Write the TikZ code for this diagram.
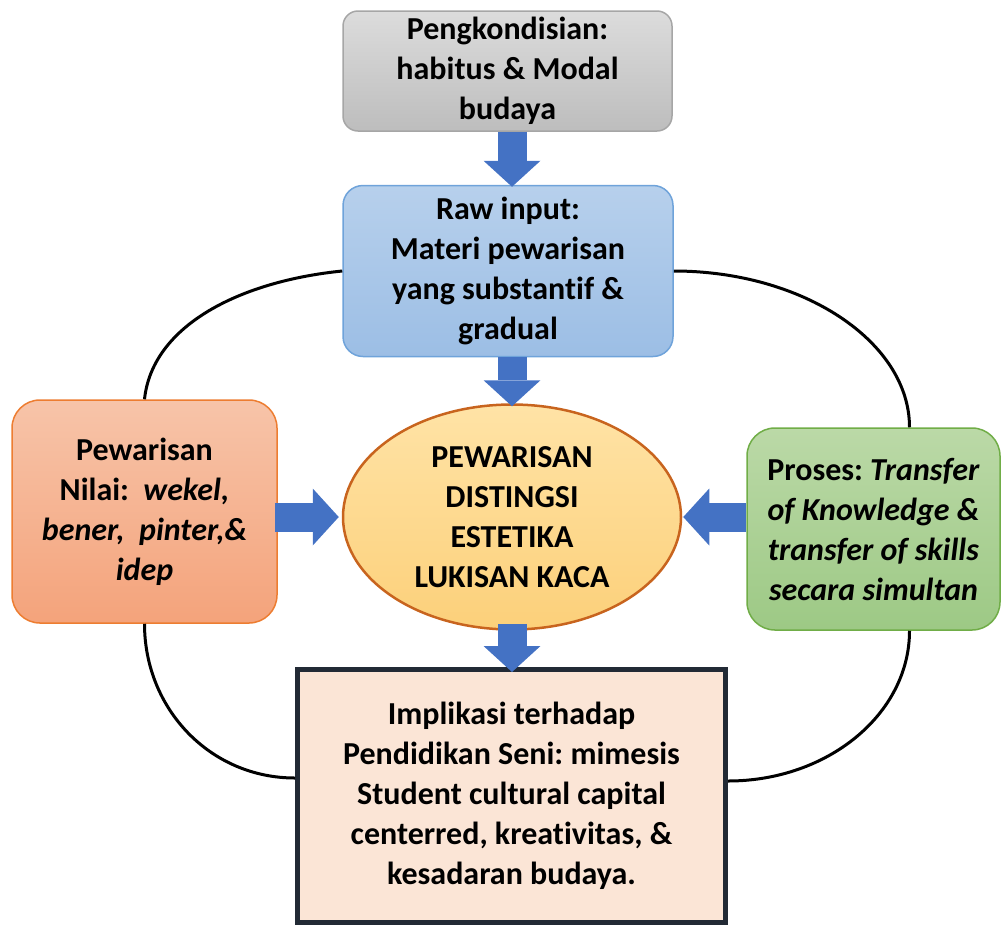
\documentclass[tikz,border=0pt]{standalone}
\usepackage{fontspec}
\setmainfont{Carlito}[Ligatures=NoCommon]
\usetikzlibrary{arrows.meta,shapes.geometric}
\frenchspacing

\definecolor{flowblue}{HTML}{4472C4}
\definecolor{grayTop}{HTML}{DCDCDC}
\definecolor{grayBot}{HTML}{BDBDBD}
\definecolor{grayLine}{HTML}{A6A6A6}
\definecolor{blueTop}{HTML}{B7D0EC}
\definecolor{blueBot}{HTML}{9CBEE5}
\definecolor{blueLine}{HTML}{6FA3DA}
\definecolor{ellTop}{HTML}{FFE3A6}
\definecolor{ellBot}{HTML}{FCD07A}
\definecolor{ellLine}{HTML}{C8641E}
\definecolor{orTop}{HTML}{F7C4A9}
\definecolor{orBot}{HTML}{F4A37B}
\definecolor{orLine}{HTML}{ED7D31}
\definecolor{grTop}{HTML}{BBD9A7}
\definecolor{grBot}{HTML}{9DC985}
\definecolor{grLine}{HTML}{70AD47}
\definecolor{peach}{HTML}{FBE5D6}
\definecolor{navy}{HTML}{222A35}

\begin{document}
\begin{tikzpicture}[x=1pt,y=1pt,
  txt/.style={inner sep=0pt, align=center,
    font=\fontsize{32}{40}\selectfont\bfseries},
  roundbox/.style={txt, rectangle, line width=1.5pt},
  flow/.style={line width=29pt, flowblue,
    -{Triangle[width=57pt,length=26pt,line width=0pt]}},
  loop/.style={line width=3pt, black}]

\useasboundingbox (0,0) rectangle (1003,-927);

% boxes
\node[roundbox, rounded corners=15pt, minimum width=329pt, minimum height=120pt,
  top color=grayTop, bottom color=grayBot, draw=grayLine]
  (cond) at (507.5,-71) {Pengkondisian:\\habitus \& Modal\\budaya};

\node[roundbox, rounded corners=20pt, minimum width=330pt, minimum height=171pt,
  top color=blueTop, bottom color=blueBot, draw=blueLine]
  (raw) at (508,-271) {Raw input:\\Materi pewarisan\\yang substantif \&\\gradual};

\node[txt, ellipse, line width=2.5pt, minimum width=338pt, minimum height=225pt,
  top color=ellTop, bottom color=ellBot, draw=ellLine]
  (core) at (512,-517) {PEWARISAN\\DISTINGSI\\ESTETIKA\\LUKISAN KACA};

\node[roundbox, rounded corners=28pt, minimum width=265pt, minimum height=223pt,
  top color=orTop, bottom color=orBot, draw=orLine]
  (nilai) at (144.5,-511.5)
  {Pewarisan\\Nilai:\ \ \textit{wekel,}\\\textit{bener,\ \ pinter,\&}\\\textit{idep}};

\node[roundbox, rounded corners=28pt, minimum width=253pt, minimum height=202pt,
  top color=grTop, bottom color=grBot, draw=grLine]
  (proses) at (873.5,-529)
  {Proses: \textit{Transfer}\\\textit{of Knowledge \&}\\\textit{transfer of skills}\\\textit{secara simultan}};

\node[txt, rectangle, line width=5pt, minimum width=428pt, minimum height=253pt,
  fill=peach, draw=navy]
  (impl) at (511.5,-796)
  {Implikasi terhadap\\Pendidikan Seni: mimesis\\Student cultural capital\\centerred, kreativitas, \&\\kesadaran budaya.};

% cycle of curved connectors
\coordinate (protop) at ([xshift=36pt]proses.north);
\coordinate (probot) at ([xshift=36pt]proses.south);
\coordinate (implL) at ([yshift=18pt]impl.west);
\coordinate (implR) at ([yshift=15pt]impl.east);

\draw[loop] (raw.west) .. controls +(-100,-10) and +(8,75) .. (nilai.north);
\draw[loop] (raw.east) .. controls +(130,0) and +(0,85) .. (protop);
\draw[loop] (nilai.south) .. controls +(0,-85) and +(-85,0) .. (implL);
\draw[loop] (probot) .. controls +(0,-83) and +(100,0) .. (implR);

% block arrows, all on the axis of the central ellipse
\draw[flow, shorten >=-2pt] (core.north |- cond.south) -- (core.north |- raw.north);
\draw[flow, shorten >=-3pt] (core.north |- raw.south) -- (core.north);
\draw[flow, shorten <=-7pt, shorten >=-5pt] (core.south) -- (core.south |- impl.north);
\draw[flow, shorten <=-3pt, shorten >=3pt] (nilai.east |- core.west) -- (core.west);
\draw[flow, shorten >=1pt] (proses.west |- core.east) -- (core.east);

\end{tikzpicture}
\end{document}
